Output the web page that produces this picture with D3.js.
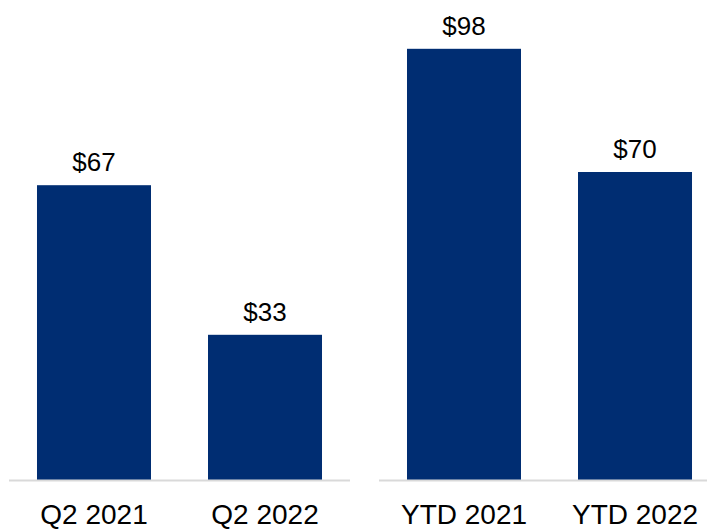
<!DOCTYPE html>
<html>
<head>
<meta charset="utf-8">
<script src="https://cdn.jsdelivr.net/npm/d3@7"></script>
<style>
  body { margin: 0; background: #fff; }
  text { font-family: "Liberation Sans", Arial, sans-serif; }
</style>
</head>
<body>
<div class="graph"></div>
<script>
const groups = ['Q2', 'YTD'];
const categories = [['Q2 2021', 'Q2 2022'], ['YTD 2021', 'YTD 2022']];
const values = [[67, 33], [98, 70]];

const width = 707;
const height = 530;
const baseline = 480;
const barColor = '#002D72';

const svg = d3.select('.graph').append('svg')
  .attr('width', width)
  .attr('height', height);

// the two groups sit on separate baselines with a gap between them
const groupX = d3.scaleBand()
  .domain(groups)
  .range([9, 720])
  .paddingInner(0.0784);

const y = d3.scaleLinear()
  .domain([0, 100])
  .range([baseline, 40]);

groups.forEach((g, gi) => {
  const x = d3.scaleBand()
    .domain(categories[gi])
    .range([0, groupX.bandwidth()])
    .paddingInner(1 / 3)
    .paddingOuter(0.1637);

  const data = categories[gi].map((c, i) => ({ name: c, value: values[gi][i] }));

  const grp = svg.append('g')
    .attr('transform', `translate(${groupX(g)},0)`);

  grp.selectAll('rect')
    .data(data)
    .enter()
    .append('rect')
    .attr('x', (d) => x(d.name))
    .attr('y', (d) => y(d.value))
    .attr('width', x.bandwidth())
    .attr('height', (d) => y(0) - y(d.value))
    .attr('fill', barColor);

  const axis = grp.append('g')
    .attr('transform', `translate(0,${baseline})`)
    .call(d3.axisBottom(x).tickSize(0).tickPadding(24));
  axis.select('.domain')
    .attr('d', `M0,0.5H${groupX.bandwidth()}`)
    .attr('stroke', '#d9d9d9')
    .attr('stroke-width', 2);
  axis.selectAll('.tick text')
    .attr('font-size', 28)
    .attr('font-family', '"Liberation Sans", Arial, sans-serif')
    .attr('fill', '#000');

  grp.selectAll('.value')
    .data(data)
    .enter()
    .append('text')
    .classed('value', true)
    .attr('x', (d) => x(d.name) + x.bandwidth() / 2)
    .attr('y', (d) => y(d.value) - 14)
    .attr('text-anchor', 'middle')
    .attr('font-size', 26)
    .attr('fill', '#000')
    .text((d) => `$${d.value}`);
});
</script>
</body>
</html>
